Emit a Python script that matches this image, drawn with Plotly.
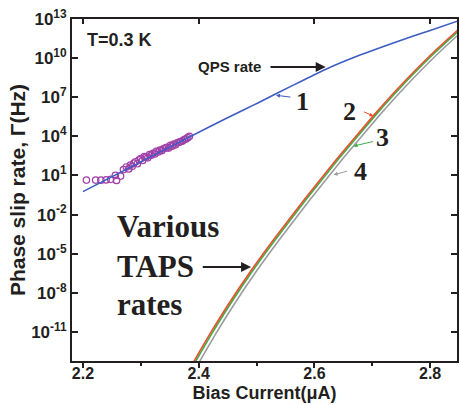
import plotly.graph_objects as go

# ---------------- data ----------------
# QPS rate (curve 1): bias current (uA) and log10 of rate (Hz)
qps_current = [2.200, 2.300, 2.418, 2.480, 2.504, 2.560, 2.620, 2.680, 2.745, 2.800, 2.848]
qps_log_rate = [-0.24, 2.04, 4.72, 6.08, 6.60, 7.85, 9.15, 10.25, 11.30, 12.12, 12.85]

# TAPS rates (curves 2, 3, 4)
taps2_current = [2.385, 2.3925, 2.420, 2.450, 2.490, 2.530, 2.584, 2.640, 2.702, 2.745, 2.800, 2.848, 2.860]
taps2_log_rate = [-13.79, -13.2, -11.11, -8.97, -6.33, -3.89, -0.77, 2.33, 5.59, 7.71, 10.2, 12.16, 12.62]
taps3_current = [2.388, 2.3955, 2.423, 2.453, 2.493, 2.533, 2.587, 2.643, 2.705, 2.748, 2.803, 2.851, 2.863]
taps3_log_rate = [-13.79, -13.2, -11.11, -8.97, -6.33, -3.89, -0.77, 2.33, 5.59, 7.71, 10.2, 12.16, 12.62]
taps4_current = [2.395, 2.4025, 2.430, 2.460, 2.500, 2.540, 2.594, 2.650, 2.712, 2.755, 2.810, 2.858, 2.870]
taps4_log_rate = [-13.79, -13.2, -11.11, -8.97, -6.33, -3.89, -0.77, 2.33, 5.59, 7.71, 10.2, 12.16, 12.62]

# measured points (open circles)
meas_current = [2.206, 2.222, 2.231, 2.240, 2.248, 2.256, 2.258, 2.265, 2.270, 2.275,
                2.279, 2.282, 2.285, 2.288, 2.291, 2.294, 2.297, 2.300, 2.303, 2.306,
                2.309, 2.312, 2.315, 2.318, 2.321, 2.324, 2.327, 2.330, 2.333, 2.336,
                2.339, 2.342, 2.345, 2.348, 2.351, 2.354, 2.357, 2.360, 2.363, 2.366,
                2.369, 2.372, 2.375, 2.378, 2.381, 2.384]
meas_log_rate = [0.65, 0.65, 0.64, 0.66, 0.70, 1.00, 0.62, 0.95, 1.45, 1.65,
                 1.50, 1.80, 1.70, 1.95, 2.05, 1.90, 2.20, 2.30, 2.15, 2.45,
                 2.40, 2.35, 2.60, 2.55, 2.70, 2.65, 2.85, 2.80, 2.95, 2.90,
                 3.05, 3.10, 3.15, 3.10, 3.30, 3.25, 3.40, 3.35, 3.50, 3.55,
                 3.60, 3.65, 3.75, 3.80, 3.90, 4.00]

x_tick_vals = [2.2, 2.4, 2.6, 2.8]
x_tick_text = ["2.2", "2.4", "2.6", "2.8"]
y_tick_exps = [-11, -8, -5, -2, 1, 4, 7, 10, 13]
y_tick_text = ["10<sup>-11</sup>", "10<sup>-8</sup>", "10<sup>-5</sup>", "10<sup>-2</sup>",
               "10<sup>1</sup>", "10<sup>4</sup>", "10<sup>7</sup>", "10<sup>10</sup>", "10<sup>13</sup>"]

# ---------------- styling ----------------
SANS = "Liberation Sans, Arial, sans-serif"
SERIF = "Liberation Serif, Times New Roman, serif"
INK = "#231f20"
BLUE = "#3d5cc4"
RED = "#e8502e"
GREEN = "#3fae46"
GREY = "#9c9c9c"
PURPLE = "#a040a8"

X_RANGE = [2.1811, 2.8464]
Y_RANGE = [-13.23, 13.0]


def rate(logs):
    return [10.0 ** v for v in logs]


fig = go.Figure()

for cur, lg, col in [(taps4_current, taps4_log_rate, GREY),
                     (taps3_current, taps3_log_rate, GREEN),
                     (taps2_current, taps2_log_rate, RED)]:
    fig.add_trace(go.Scatter(x=cur, y=rate(lg), mode="lines",
                             line=dict(color=col, width=1.6, shape="spline", smoothing=0.5),
                             showlegend=False, hoverinfo="skip"))
fig.add_trace(go.Scatter(x=meas_current, y=rate(meas_log_rate), mode="markers",
                         marker=dict(symbol="circle-open", size=6.5, color=PURPLE,
                                     line=dict(width=1.2, color=PURPLE)),
                         showlegend=False, hoverinfo="skip"))
fig.add_trace(go.Scatter(x=qps_current, y=rate(qps_log_rate), mode="lines",
                         line=dict(color=BLUE, width=1.6, shape="spline", smoothing=0.6),
                         showlegend=False, hoverinfo="skip"))
# empty trace to anchor the top axis
fig.add_trace(go.Scatter(x=[], y=[], xaxis="x2", yaxis="y", showlegend=False))

ann = []


def text(x, y, s, size, family=SANS, anchor="left"):
    ann.append(dict(x=x, y=y, xref="x", yref="y", text=s, showarrow=False,
                    xanchor=anchor, yanchor="middle",
                    font=dict(family=family, size=size, color=INK, weight="bold")))


text(2.2034, 11.39, "T=0.3 K", 18)
text(2.396, 9.32, "QPS rate", 15)
text(2.255, -2.95, "Various", 31, SERIF)
text(2.255, -6.02, "TAPS", 31, SERIF)
text(2.255, -8.93, "rates", 31, SERIF)
text(2.5799, 6.71, "1", 26, SERIF, "center")
text(2.6607, 5.87, "2", 26, SERIF, "center")
text(2.7174, 3.95, "3", 26, SERIF, "center")
text(2.6796, 1.27, "4", 26, SERIF, "center")

# big black arrows
for (x0, x1, yv) in [(2.5215, 2.6195, 9.32), (2.4045, 2.4905, -6.02)]:
    ann.append(dict(x=x1, y=yv, ax=x0, ay=yv, xref="x", yref="y", axref="x", ayref="y",
                    text="", showarrow=True, arrowhead=2, arrowsize=1.0,
                    arrowwidth=2, arrowcolor=INK, standoff=0))

# small coloured arrows pointing to the curves
for (x, y, ax, ay, col) in [(2.5335, 7.15, 16, 2, BLUE), (2.702, 5.55, -11, -5, RED),
                            (2.6676, 3.25, 21, -5, GREEN), (2.6332, 1.05, 15, -4, GREY)]:
    ann.append(dict(x=x, y=y, ax=ax, ay=ay, xref="x", yref="y", text="",
                    showarrow=True, arrowhead=2, arrowsize=0.8, arrowwidth=1,
                    arrowcolor=col, standoff=0))

fig.update_layout(
    width=460, height=405,
    margin=dict(l=72, r=1, t=19, b=44, pad=0),
    paper_bgcolor="white", plot_bgcolor="white",
    showlegend=False,
    annotations=ann,
    xaxis=dict(range=X_RANGE, tickvals=x_tick_vals, ticktext=x_tick_text,
               ticks="outside", ticklen=5, tickwidth=2, tickcolor=INK,
               ticklabelstandoff=-8,
               minor=dict(dtick=0.1, tick0=2.2, ticks="outside", ticklen=3, tickwidth=1.5, tickcolor=INK),
               showline=True, linewidth=2, linecolor=INK, mirror=True,
               showgrid=False, zeroline=False,
               tickfont=dict(family=SANS, size=16, color=INK, weight="bold"),
               title=dict(text="Bias Current(μA)", standoff=5,
                          font=dict(family=SANS, size=18, color=INK, weight="bold"))),
    xaxis2=dict(range=X_RANGE, overlaying="x", side="top", tickvals=x_tick_vals,
                ticks="inside", ticklen=5, tickwidth=2, tickcolor=INK,
                showticklabels=False, showline=False, showgrid=False, zeroline=False),
    yaxis=dict(type="log", range=Y_RANGE,
               tickvals=[10.0 ** e for e in y_tick_exps], ticktext=y_tick_text,
               ticks="inside", ticklen=6, tickwidth=2, tickcolor=INK,
               showline=True, linewidth=2, linecolor=INK, mirror="ticks",
               showgrid=False, zeroline=False,
               tickfont=dict(family=SANS, size=17, color=INK, weight="bold"),
               title=dict(text="Phase slip rate, Γ(Hz)", standoff=0,
                          font=dict(family=SANS, size=21, color=INK, weight="bold"))),
)

fig.write_html("out.html")
